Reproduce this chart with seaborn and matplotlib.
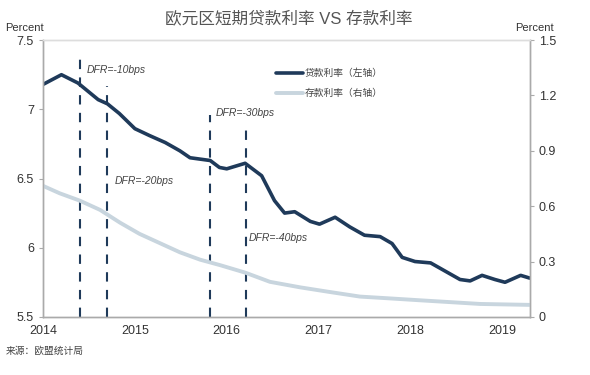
import numpy as np
import pandas as pd
import seaborn as sns
import matplotlib.pyplot as plt

# 贷款利率（左轴）
loan_t = [2014.0, 2014.2, 2014.38, 2014.6, 2014.7, 2014.83, 2015.0, 2015.16, 2015.33,
          2015.49, 2015.6, 2015.82, 2015.92, 2016.0, 2016.2, 2016.38, 2016.52, 2016.63,
          2016.74, 2016.91, 2017.01, 2017.18, 2017.34, 2017.5, 2017.67, 2017.8, 2017.91,
          2018.05, 2018.22, 2018.38, 2018.54, 2018.65, 2018.78, 2018.92, 2019.03, 2019.2, 2019.3]
loan_rate = [7.18, 7.25, 7.19, 7.07, 7.04, 6.97, 6.86, 6.81, 6.76,
             6.70, 6.65, 6.63, 6.58, 6.57, 6.61, 6.52, 6.34, 6.25,
             6.26, 6.19, 6.17, 6.22, 6.15, 6.09, 6.08, 6.03, 5.93,
             5.90, 5.89, 5.83, 5.77, 5.76, 5.80, 5.77, 5.75, 5.80, 5.78]

# 存款利率（右轴）
dep_t = [2014.0, 2014.18, 2014.4, 2014.62, 2014.84, 2015.05, 2015.27, 2015.49, 2015.71,
         2015.93, 2016.2, 2016.47, 2016.8, 2017.12, 2017.45, 2017.78, 2018.1, 2018.43,
         2018.76, 2019.3]
dep_rate = [0.71, 0.67, 0.63, 0.58, 0.51, 0.45, 0.40, 0.35, 0.31,
            0.28, 0.24, 0.19, 0.16, 0.135, 0.11, 0.10, 0.09, 0.08,
            0.07, 0.065]

dfr_x = [2014.4, 2014.7, 2015.82, 2016.21]
dfr_top = [7.39, 7.17, 6.96, 6.86]
dfr_labels = ['DFR=-10bps', 'DFR=-20bps', 'DFR=-30bps', 'DFR=-40bps']
dfr_pos = [(2014.48, 7.26), (2014.78, 6.46), (2015.88, 6.95), (2016.24, 6.05)]

years = [2014, 2015, 2016, 2017, 2018, 2019]

loan = pd.DataFrame({'t': loan_t, 'rate': loan_rate})
dep = pd.DataFrame({'t': dep_t, 'rate': dep_rate})

sns.set_style('white')
plt.rcParams['font.family'] = ['Liberation Sans', 'Noto Sans CJK SC', 'DejaVu Sans']

fig = plt.figure(figsize=(5.9, 3.75), dpi=100)
ax = fig.add_axes([0.073, 0.155, 0.825, 0.738])
ax2 = ax.twinx()

dark = '#1f3a5a'
light = '#c8d5de'

sns.lineplot(data=dep, x='t', y='rate', ax=ax2, color=light, lw=2.8, label='存款利率（右轴）',
             legend=False, solid_joinstyle='round', solid_capstyle='round')
sns.lineplot(data=loan, x='t', y='rate', ax=ax, color=dark, lw=2.6, label='贷款利率（左轴）',
             legend=False, solid_joinstyle='round', solid_capstyle='round')

for x, top in zip(dfr_x, dfr_top):
    ax.plot([x, x], [5.5, top], color=dark, lw=1.5, ls=(0, (4.5, 4)))
for lab, (x, y) in zip(dfr_labels, dfr_pos):
    ax.text(x, y, lab, fontsize=7.5, style='italic', color='#444444')

ax.set_xlim(2014, 2019.3)
ax.set_ylim(5.5, 7.5)
ax2.set_ylim(0, 1.5)
ax.set_xticks(years)
ax.set_xticklabels([str(y) for y in years])
ax.set_yticks([5.5, 6, 6.5, 7, 7.5])
ax.set_yticklabels(['5.5', '6', '6.5', '7', '7.5'])
ax2.set_yticks([0, 0.3, 0.6, 0.9, 1.2, 1.5])
ax2.set_yticklabels(['0', '0.3', '0.6', '0.9', '1.2', '1.5'])
ax.set_xlabel('')
ax.set_ylabel('')
ax2.set_ylabel('')

for a in (ax, ax2):
    for s in a.spines.values():
        s.set_color('#aaaaaa')
        s.set_linewidth(1)
    a.spines['top'].set_color('#dddddd')
    a.tick_params(colors='#333333', labelsize=9, length=3, width=0.8)
    a.tick_params(axis='both', color='#aaaaaa')
ax.tick_params(axis='x', pad=3)

h1, l1 = ax.get_legend_handles_labels()
h2, l2 = ax2.get_legend_handles_labels()
leg = ax.legend(h1 + h2, l1 + l2, loc='upper left', bbox_to_anchor=(0.46, 0.93),
                frameon=False, fontsize=7, handlelength=2.8, labelspacing=1.0,
                handletextpad=0.2)
for t in leg.get_texts():
    t.set_color('#444444')

fig.text(0.49, 0.95, '欧元区短期贷款利率 VS 存款利率', ha='center', va='center',
         fontsize=12, color='#555555')
fig.text(0.042, 0.925, 'Percent', ha='center', va='center', fontsize=8, color='#333333')
fig.text(0.905, 0.925, 'Percent', ha='center', va='center', fontsize=8, color='#333333')
fig.text(0.01, 0.065, '来源：欧盟统计局', ha='left', va='center', fontsize=7, color='#444444')

fig.savefig('out.png', dpi=100)
